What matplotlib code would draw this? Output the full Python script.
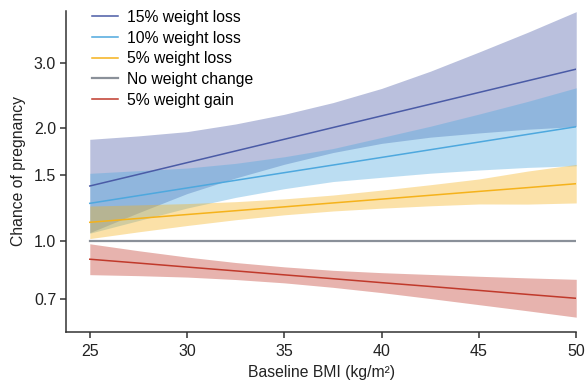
import numpy as np
import matplotlib
matplotlib.use("Agg")
import matplotlib.pyplot as plt

plt.rcParams["font.family"] = ["Liberation Sans", "DejaVu Sans"]

# =========================
# Data
# =========================
bmi = [25, 27.5, 30, 32.5, 35, 37.5, 40, 42.5, 45, 47.5, 50]

loss15 = [1.401, 1.505, 1.618, 1.739, 1.869, 2.009, 2.159, 2.320, 2.494, 2.680, 2.880]
loss15_lo = [1.051, 1.188, 1.337, 1.472, 1.602, 1.722, 1.822, 1.893, 1.943, 1.988, 2.021]
loss15_hi = [1.868, 1.908, 1.959, 2.054, 2.180, 2.343, 2.557, 2.843, 3.200, 3.613, 4.105]

loss10 = [1.259, 1.320, 1.384, 1.451, 1.521, 1.594, 1.671, 1.752, 1.837, 1.926, 2.019]
loss10_lo = [1.047, 1.132, 1.223, 1.306, 1.378, 1.440, 1.478, 1.516, 1.546, 1.571, 1.587]
loss10_hi = [1.515, 1.540, 1.565, 1.611, 1.678, 1.765, 1.890, 2.025, 2.183, 2.360, 2.567]

loss5 = [1.120, 1.147, 1.175, 1.203, 1.232, 1.262, 1.292, 1.323, 1.355, 1.387, 1.421]
loss5_lo = [1.013, 1.056, 1.098, 1.138, 1.173, 1.201, 1.222, 1.240, 1.254, 1.253, 1.262]
loss5_hi = [1.238, 1.247, 1.257, 1.272, 1.294, 1.325, 1.366, 1.412, 1.463, 1.536, 1.600]

no_change = [1.0] * len(bmi)

gain5 = [0.892, 0.871, 0.850, 0.830, 0.810, 0.791, 0.772, 0.754, 0.736, 0.718, 0.701]
gain5_lo = [0.811, 0.806, 0.799, 0.787, 0.771, 0.750, 0.726, 0.700, 0.674, 0.649, 0.624]
gain5_hi = [0.981, 0.940, 0.904, 0.874, 0.851, 0.833, 0.821, 0.812, 0.803, 0.795, 0.788]

labels = ["15% weight loss", "10% weight loss", "5% weight loss",
          "No weight change", "5% weight gain"]
colors = ["#4a5ba6", "#4ea8de", "#f5b21b", "#8a9099", "#c0392b"]

y_ticks = [0.7, 1.0, 1.5, 2.0, 3.0]
x_ticks = [25, 30, 35, 40, 45, 50]

# =========================
# Plot
# =========================
fig = plt.figure(figsize=(5.88, 3.81), dpi=100)
ax = fig.add_axes([0.112, 0.129, 0.868, 0.842])

bands = [(loss15_lo, loss15_hi), (loss10_lo, loss10_hi), (loss5_lo, loss5_hi),
         None, (gain5_lo, gain5_hi)]
lines = [loss15, loss10, loss5, no_change, gain5]

for band, c in zip(bands, colors):
    if band is not None:
        ax.fill_between(bmi, band[0], band[1], color=c, alpha=0.38, lw=0)

for vals, c, lab in zip(lines, colors, labels):
    lw = 1.6 if lab == "No weight change" else 1.1
    ax.plot(bmi, vals, color=c, lw=lw, label=lab)

ax.set_yscale("log")
ax.set_ylim(0.57, 4.12)
ax.set_xlim(23.77, 50)
ax.set_yticks(y_ticks)
ax.set_yticklabels([f"{v:.1f}" for v in y_ticks])
ax.yaxis.set_minor_locator(matplotlib.ticker.NullLocator())
ax.set_xticks(x_ticks)

for s in ["top", "right"]:
    ax.spines[s].set_visible(False)
for s in ["left", "bottom"]:
    ax.spines[s].set_linewidth(1.1)
    ax.spines[s].set_color("#333333")
ax.tick_params(axis="both", direction="out", length=4, width=1.1,
               color="#333333", labelsize=11.5, labelcolor="#222222", pad=3)
ax.tick_params(axis="x", pad=5)

ax.set_xlabel("Baseline BMI (kg/m²)", fontsize=11.3, color="#222222", labelpad=4)
ax.set_ylabel("Chance of pregnancy", fontsize=11.3, color="#222222", labelpad=6)

fig.legend(loc="upper left", bbox_to_anchor=(0.156, 0.974), frameon=False,
           fontsize=11.3, handlelength=1.68, handletextpad=0.57,
           labelspacing=0.36, borderpad=0, borderaxespad=0)

fig.savefig("out.png", dpi=100)
